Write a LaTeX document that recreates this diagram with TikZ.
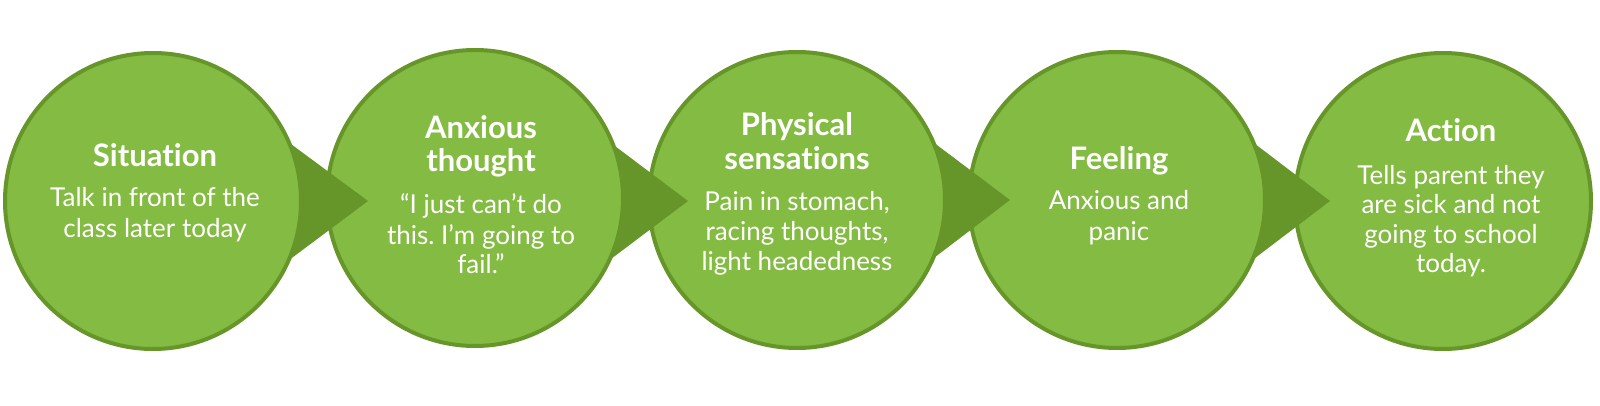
\documentclass[tikz,border=0pt]{standalone}
\usepackage{fontspec}
\setmainfont{Lato}[Ligatures={NoCommon}]
\usetikzlibrary{calc}
\definecolor{leaf}{HTML}{84BB42}
\definecolor{moss}{HTML}{669629}
\tikzset{
  bubble/.style={circle, draw=moss, fill=leaf, line width=4pt, minimum size=296pt, inner sep=0pt},
  pointer/.style={fill=moss, draw=none},
  ttl/.style={text=white, anchor=base, inner sep=0pt, font=\fontsize{31}{33}\selectfont\bfseries},
  bdy/.style={text=white, anchor=base, inner sep=0pt, font=\fontsize{26}{30}\selectfont},
}
\frenchspacing
\begin{document}
\begin{tikzpicture}[x=1pt,y=-1pt]
\useasboundingbox (0,0) rectangle (1600,406);
\coordinate (p1) at (153,201);
\coordinate (p2) at (475,198);
\coordinate (p3) at (797,200);
\coordinate (p4) at (1117,200);
\coordinate (p5) at (1443,201);
% right to left so each pointer sits over the next bubble and under its own
\node[bubble] (c5) at (p5) {};
\fill[pointer] ($(p4)+(100,-85)$) coordinate (a4) -- ($(p4)+(213,1)$) coordinate (b4) -- ($(p4)+(100,87)$) -- cycle;
\node[bubble] (c4) at (p4) {};
\fill[pointer] ($(p3)+(100,-85)$) coordinate (a3) -- ($(p3)+(213,0)$) coordinate (b3) -- ($(p3)+(100,86)$) -- cycle;
\node[bubble] (c3) at (p3) {};
\fill[pointer] ($(p2)+(100,-82)$) coordinate (a2) -- ($(p2)+(213,3)$) coordinate (b2) -- ($(p2)+(100,88)$) -- cycle;
\node[bubble] (c2) at (p2) {};
\fill[pointer] ($(p1)+(100,-85)$) coordinate (a1) -- ($(p1)+(215,0)$) coordinate (b1) -- ($(p1)+(100,86)$) -- cycle;
\node[bubble] (c1) at (p1) {};
% texts
\node[ttl] (t1a) at (155,167) {Situation};
\node[bdy] (t1b) at (155,207) {Talk in front of the};
\node[bdy] (t1c) at (155,237) {class later today};
\node[ttl] (t2a) at (481,139) {Anxious};
\node[ttl] (t2b) at (481,172) {thought};
\node[bdy] (t2c) at (481,214) {“I just can’t do};
\node[bdy] (t2d) at (481,244) {this. I’m going to};
\node[bdy] (t2e) at (481,273) {fail.”};
\node[ttl] (t3a) at (797,136) {Physical};
\node[ttl] (t3b) at (797,170) {sensations};
\node[bdy] (t3c) at (797,211) {Pain in stomach,};
\node[bdy] (t3d) at (797,240) {racing thoughts,};
\node[bdy] (t3e) at (797,270) {light headedness};
\node[ttl] (t4a) at (1119,170) {Feeling};
\node[bdy] (t4b) at (1119,210) {Anxious and};
\node[bdy] (t4c) at (1119,240) {panic};
\node[ttl] (t5a) at (1451,142) {Action};
\node[bdy] (t5b) at (1451,185) {Tells parent they};
\node[bdy] (t5c) at (1451,214) {are sick and not};
\node[bdy] (t5d) at (1451,243) {going to school};
\node[bdy] (t5e) at (1451,272) {today.};
\end{tikzpicture}
\end{document}
